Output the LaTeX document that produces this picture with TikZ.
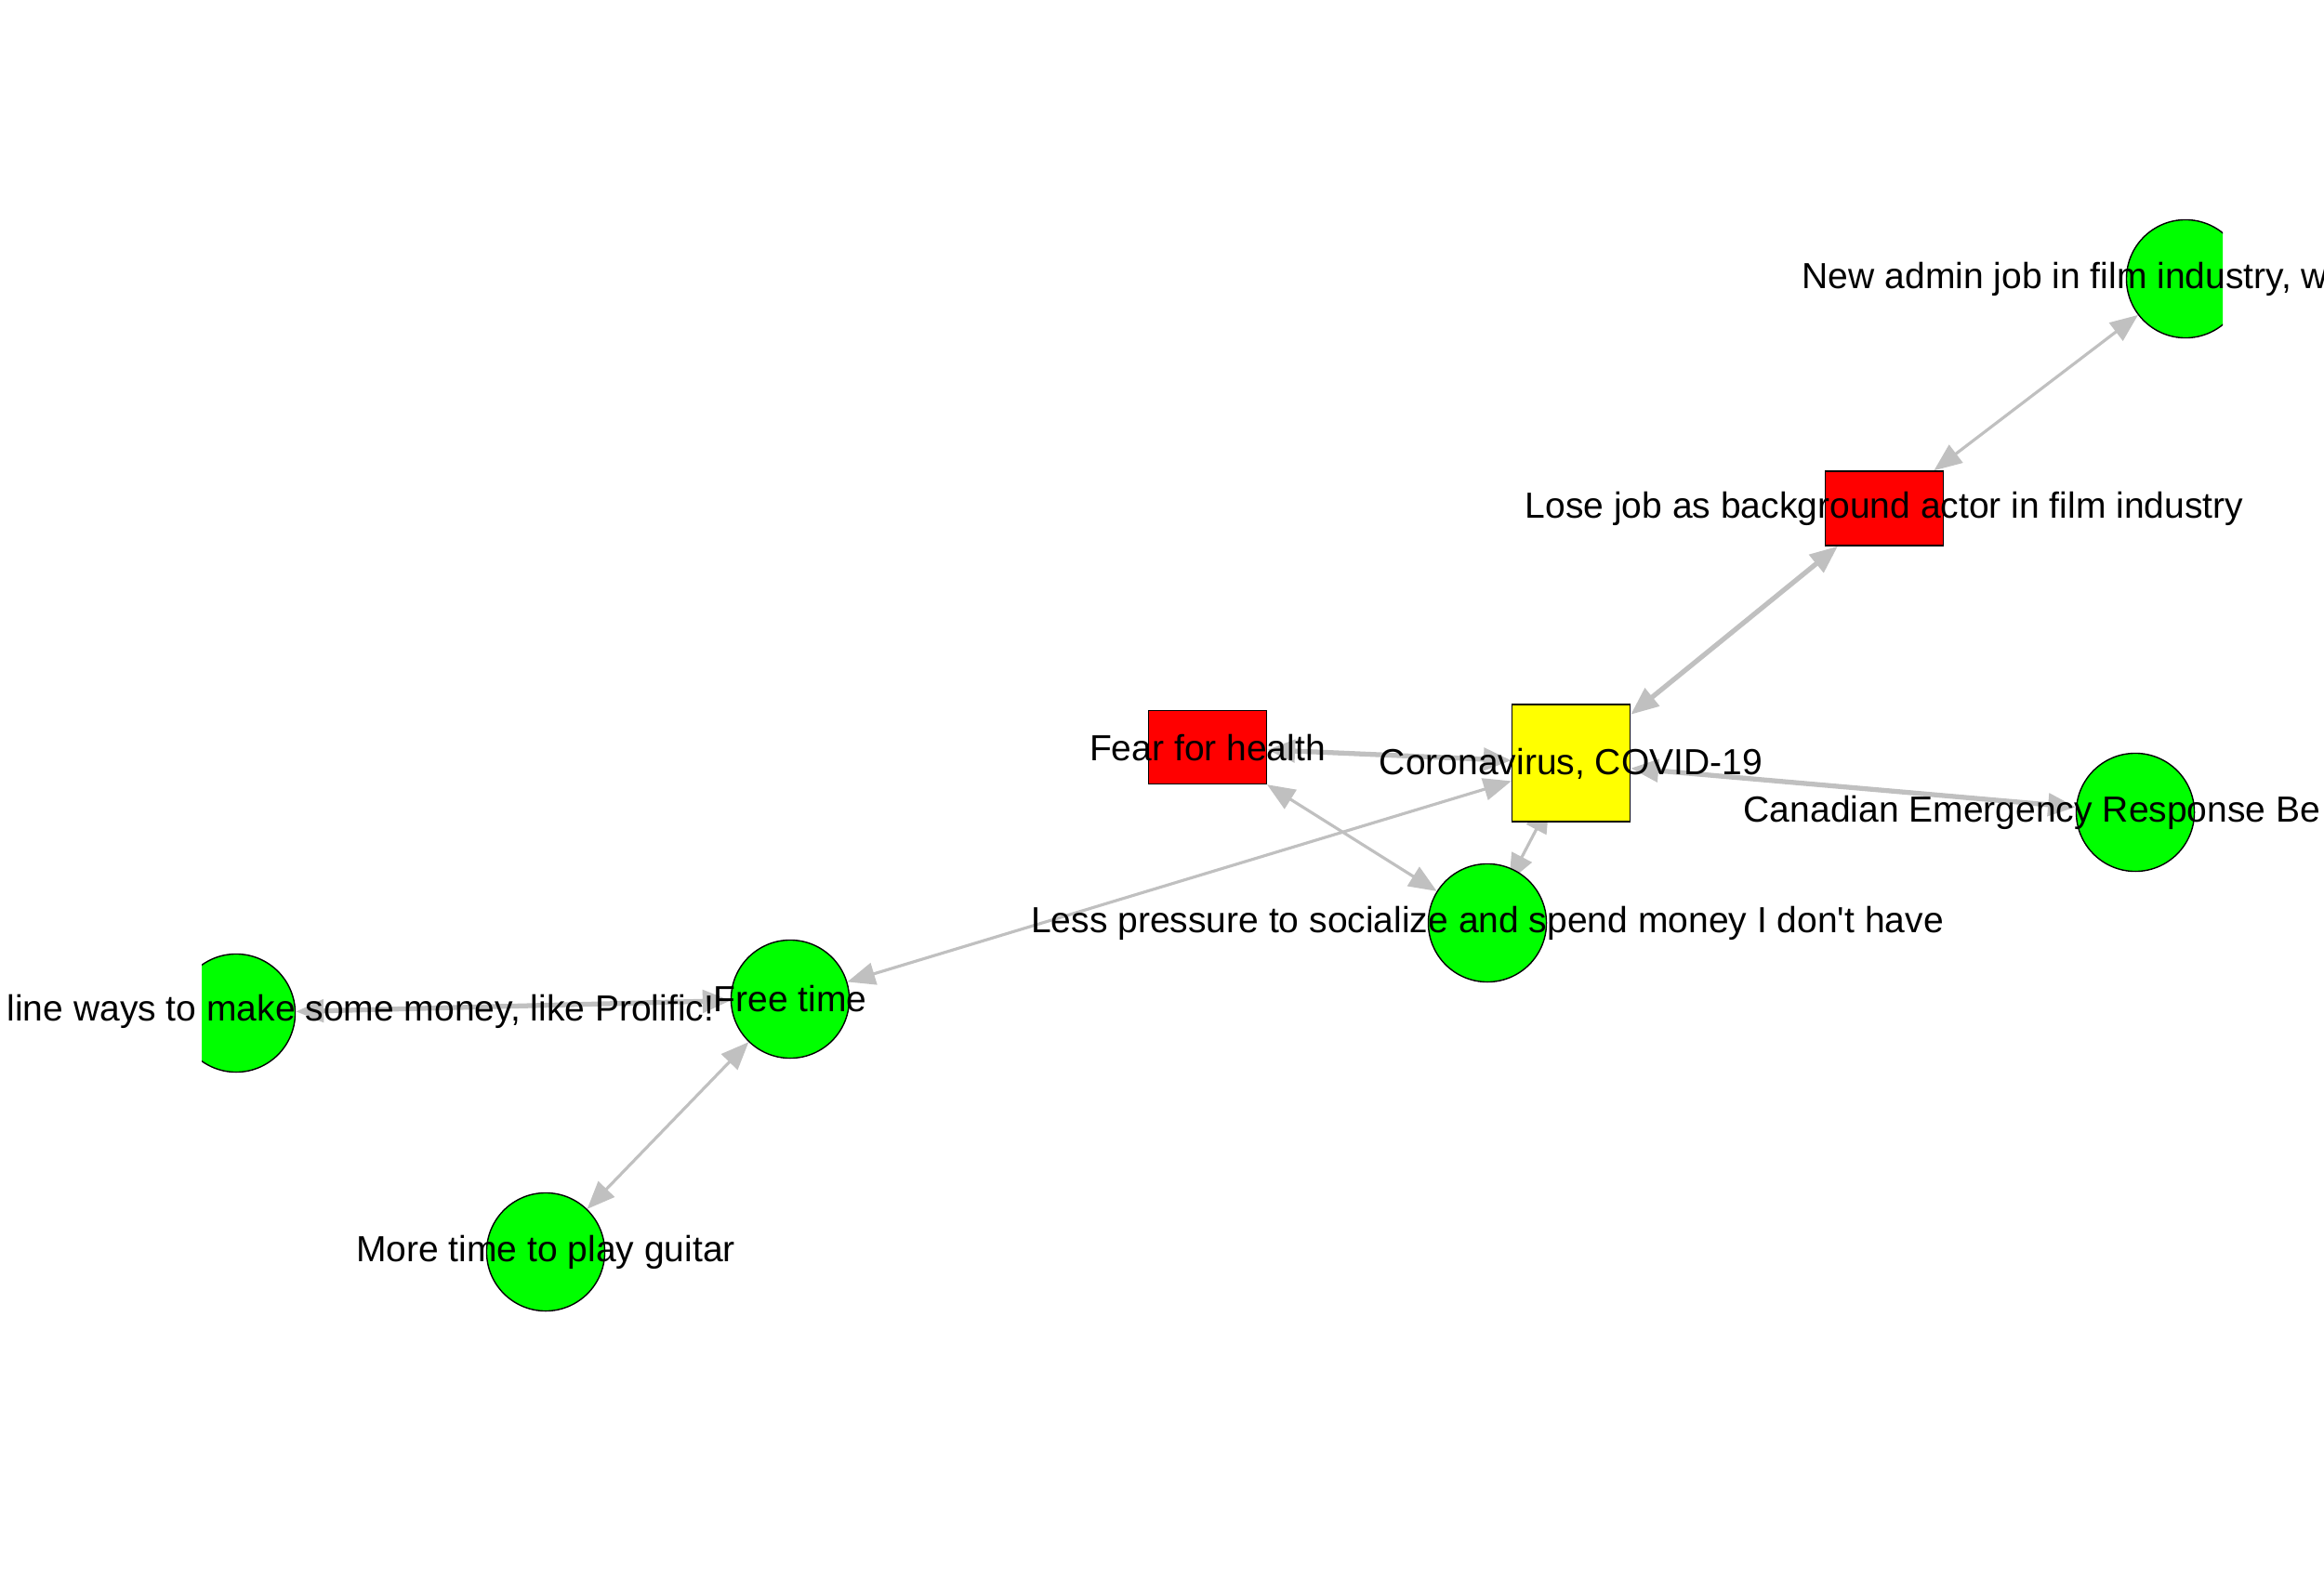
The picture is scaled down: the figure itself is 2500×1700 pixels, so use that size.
\documentclass[tikz,border=0pt]{standalone}
\usepackage{fontspec}
\setmainfont{Liberation Sans}
\usetikzlibrary{arrows.meta}
\definecolor{covyellow}{HTML}{FFFF00}
\definecolor{badred}{HTML}{FF0000}
\definecolor{goodgreen}{HTML}{00FF00}
\definecolor{linkgray}{HTML}{C0C0C0}
\pgfdeclarelayer{edges}
\pgfsetlayers{edges,main}

\begin{document}
\begin{tikzpicture}[x=0.01cm, y=-0.01cm,
	box/.style={rectangle, draw=black, line width=0.4pt, inner sep=0pt, minimum width=1.27cm, minimum height=0.8cm},
	blob/.style={circle, draw=black, line width=0.4pt, fill=goodgreen, inner sep=0pt, minimum size=1.27cm},
	lbl/.style={anchor=base, inner sep=0pt, font=\fontsize{11.1pt}{13pt}\selectfont},
	link/.style={draw=linkgray, line width=0.9pt, {Triangle[length=8.5pt,width=6.8pt]}-{Triangle[length=8.5pt,width=6.8pt]}},
	biglink/.style={link, line width=1.5pt}]
			%%%%% START %%%%%
			\clip (0, 0) rectangle (2500, 1700);
			
			\node[box, fill=covyellow, minimum height=1.26cm] (corona) at (1690, 821) {};
			\node[box, fill=badred] (lose) at (2027, 547) {};
			\node[box, fill=badred, minimum height=0.79cm] (fear) at (1299, 804) {};
			
			\node[blob] (cerb) at (2297, 874) {};
			\node[blob] (less) at (1600, 993) {};
			\node[blob] (free) at (850, 1075) {};
			\node[blob] (guitar) at (587, 1347) {};
			\begin{scope}
				\clip (0, 0) rectangle (2391, 1700);
				\node[blob] (admin) at (2351, 300) {};
			\end{scope}
			\begin{scope}
				\clip (217, 0) rectangle (2500, 1700);
				\node[blob] (online) at (254, 1090) {};
			\end{scope}
			
			\begin{pgfonlayer}{edges}
				\draw[biglink] (corona) -- (lose);
				\draw[link] (lose) -- (admin);
				\draw[biglink] (fear) -- (corona);
				\draw[link] (fear) -- (less);
				\draw[link] (corona) -- (free);
				\draw[link, shorten <=-6pt, shorten >=-4pt] (corona) -- (less);
				\draw[biglink] (corona) -- (cerb);
				\draw[biglink] (online) -- (free);
				\draw[link] (free) -- (guitar);
			\end{pgfonlayer}
			
			\node[lbl] (coronalbl) at (1690, 833) {Coronavirus, COVID-19};
			\node[lbl] (loselbl) at (2027, 557) {Lose job as background actor in film industry};
			\node[lbl, anchor=base west] (adminlbl) at (1938, 310) {New admin job in film industry, w};
			\node[lbl, anchor=base west] (cerblbl) at (1875, 884) {Canadian Emergency Response Be};
			\node[lbl] (fearlbl) at (1299, 818) {Fear for health};
			\node[lbl] (lesslbl) at (1600, 1003) {Less pressure to socialize and spend money I don\textquotesingle t have};
			\node[lbl] (freelbl) at (850, 1088) {Free time};
			\node[lbl, anchor=base east] (onlinelbl) at (769, 1098) {line ways to make some money, like Prolific!};
			\node[lbl] (guitarlbl) at (587, 1357) {More time to play guitar};
			%%%%% END %%%%%
\end{tikzpicture}
\end{document}
